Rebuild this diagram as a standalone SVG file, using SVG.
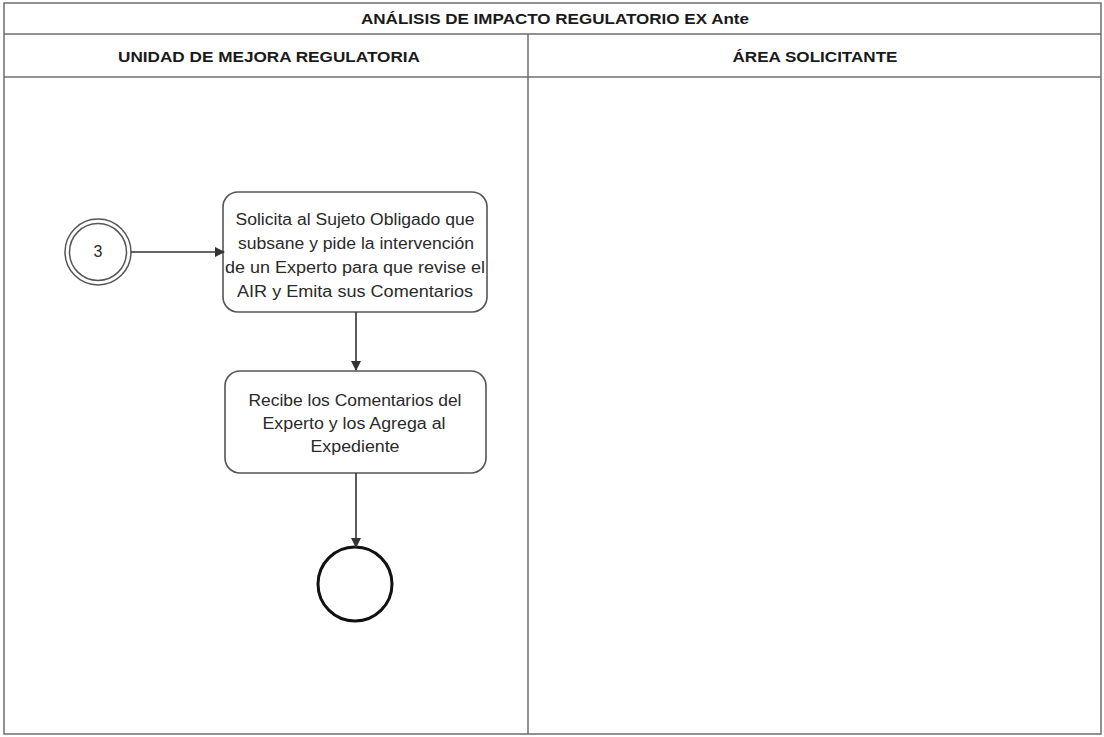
<svg xmlns="http://www.w3.org/2000/svg" width="1104" height="737" viewBox="0 0 1104 737">
<style>
.lane{fill:none;stroke:#6e6e6e;stroke-width:1.5}
.hdr{font-family:"Liberation Sans",Arial,sans-serif;font-weight:bold;font-size:15px;fill:#1a1a1a;text-anchor:middle}
.box{fill:#fff;stroke:#555;stroke-width:1.6}
.txt{font-family:"Liberation Sans",Arial,sans-serif;font-size:16px;fill:#2a2a2a;text-anchor:middle}
.conn{fill:none;stroke:#333;stroke-width:1.6}
</style>
<defs>
<marker id="arr" viewBox="0 0 10 10" refX="9" refY="5" markerWidth="10" markerHeight="10" orient="auto" markerUnits="userSpaceOnUse">
<path d="M0,0 L10,5 L0,10 z" fill="#333"/>
</marker>
</defs>
<rect width="1104" height="737" fill="#fff"/>
<g id="pool">
<rect class="lane" x="4" y="3" width="1097" height="731"/>
<line class="lane" x1="4" y1="34" x2="1101" y2="34"/>
<line class="lane" x1="4" y1="77" x2="1101" y2="77"/>
<line class="lane" x1="528" y1="34" x2="528" y2="734"/>
<text class="hdr" x="555" y="24" textLength="388" lengthAdjust="spacingAndGlyphs">ANÁLISIS DE IMPACTO REGULATORIO EX Ante</text>
<text class="hdr" x="269" y="62" textLength="302" lengthAdjust="spacingAndGlyphs">UNIDAD DE MEJORA REGULATORIA</text>
<text class="hdr" x="815" y="62" textLength="165" lengthAdjust="spacingAndGlyphs">ÁREA SOLICITANTE</text>
</g>
<g id="start3">
<circle cx="98" cy="252" r="33" fill="#fff" stroke="#555" stroke-width="1.5"/>
<circle cx="98" cy="252" r="28.5" fill="none" stroke="#555" stroke-width="1.5"/>
<text class="txt" x="98" y="257" font-size="14">3</text>
</g>
<g id="task1">
<rect class="box" x="223" y="192" width="264" height="120" rx="15"/>
<text class="txt" x="355" y="225" textLength="239" lengthAdjust="spacingAndGlyphs">Solicita al Sujeto Obligado que</text>
<text class="txt" x="356" y="249" textLength="236" lengthAdjust="spacingAndGlyphs">subsane y pide la intervención</text>
<text class="txt" x="355" y="273" textLength="260" lengthAdjust="spacingAndGlyphs">de un Experto para que revise el</text>
<text class="txt" x="355" y="297" textLength="236" lengthAdjust="spacingAndGlyphs">AIR y Emita sus Comentarios</text>
</g>
<g id="task2">
<rect class="box" x="225" y="371" width="261" height="102" rx="15"/>
<text class="txt" x="355" y="406" textLength="213" lengthAdjust="spacingAndGlyphs">Recibe los Comentarios del</text>
<text class="txt" x="354" y="429" textLength="183" lengthAdjust="spacingAndGlyphs">Experto y los Agrega al</text>
<text class="txt" x="355" y="452" textLength="89" lengthAdjust="spacingAndGlyphs">Expediente</text>
</g>
<g id="end">
<circle cx="355" cy="584" r="37" fill="#fff" stroke="#111" stroke-width="3"/>
</g>
<g id="connectors">
<line class="conn" x1="131" y1="252" x2="224" y2="252" marker-end="url(#arr)"/>
<line class="conn" x1="356" y1="312" x2="356" y2="370" marker-end="url(#arr)"/>
<line class="conn" x1="356" y1="473" x2="356" y2="547" marker-end="url(#arr)"/>
</g>
</svg>
